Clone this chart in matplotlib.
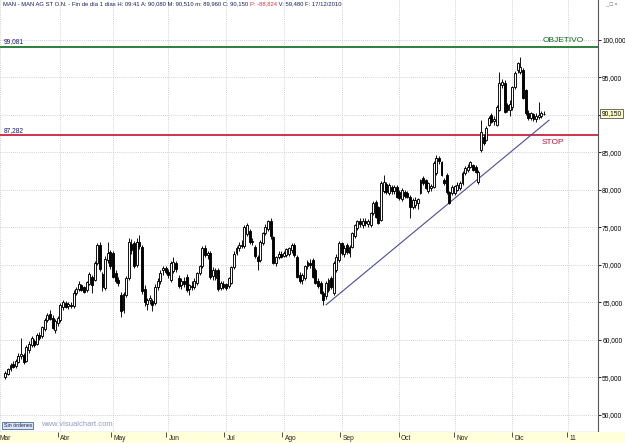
import matplotlib
matplotlib.use("Agg")
import matplotlib.pyplot as plt
import numpy as np

plt.rcParams['font.family'] = ['Liberation Sans', 'DejaVu Sans']

# Daily candles MAN AG, 2010 (index = trading day since 1 Mar 2010)
first_day = 2
opens = [55.1, 55.5, 56.1, 56.8, 56.5, 57.1, 57.8, 58.0, 57.2, 58.7,
         59.3, 59.9, 59.5, 60.6, 60.5, 61.5, 62.7, 63.5, 62.9, 61.3,
         62.3, 62.6, 64.4, 64.9, 64.5, 64.7, 64.5, 66.3, 66.8, 67.3,
         67.0, 66.6, 67.5, 68.4, 68.0, 70.2, 72.7, 68.8, 66.9, 70.6,
         71.7, 71.6, 68.9, 68.0, 66.0, 64.0, 66.0, 68.2, 72.8, 72.9,
         70.0, 73.0, 72.4, 66.8, 64.8, 65.3, 65.2, 64.9, 67.0, 67.9,
         69.3, 69.6, 69.1, 68.0, 69.2, 70.2, 68.3, 67.3, 67.8, 68.4,
         66.8, 67.2, 67.1, 67.6, 68.9, 69.8, 72.3, 71.3, 71.6, 68.5,
         68.3, 69.3, 66.9, 67.5, 67.4, 67.2, 67.6, 69.7, 71.6, 72.2,
         72.7, 72.5, 74.1, 74.5, 73.2, 72.4, 71.1, 70.6, 72.9, 74.3,
         74.8, 75.8, 73.7, 70.2, 71.1, 71.4, 71.2, 71.3, 71.4, 72.0,
         72.7, 71.1, 68.7, 68.0, 68.2, 69.8, 70.2, 70.6, 69.3, 67.9,
         67.6, 66.3, 65.8, 66.7, 68.2, 66.2, 69.3, 70.7, 72.9, 71.4,
         72.6, 71.6, 72.4, 73.8, 74.9, 75.8, 75.3, 75.9, 75.4, 75.3,
         76.9, 78.4, 77.7, 76.0, 79.9, 80.8, 79.6, 80.4, 79.8, 80.4,
         79.7, 78.8, 79.7, 79.6, 79.1, 77.7, 78.0, 78.3, 79.6, 81.6,
         81.3, 79.9, 80.2, 80.4, 82.3, 84.2, 83.7, 81.3, 82.0, 79.7,
         79.6, 79.6, 80.0, 80.3, 80.9, 82.3, 82.6, 83.1, 83.3, 83.1,
         81.1, 85.3, 87.1, 86.7, 88.7, 90.0, 89.2, 88.7, 90.7, 94.0,
         94.3, 91.3, 90.7, 91.0, 93.7, 96.0, 95.7, 96.0, 93.3, 90.3,
         89.6, 90.1, 89.5, 89.7, 89.9, 90.08]
highs = [55.8, 56.3, 56.9, 57.2, 57.4, 58.2, 60.2, 58.2, 59.3, 59.8,
         60.5, 60.1, 60.9, 61.0, 61.9, 62.9, 63.6, 64.0, 63.3, 62.8,
         63.2, 64.9, 65.3, 65.2, 65.0, 65.1, 66.6, 67.1, 67.8, 67.5,
         67.2, 67.9, 69.1, 68.6, 70.5, 72.9, 73.0, 69.1, 71.2, 73.1,
         72.0, 71.9, 69.3, 68.4, 66.4, 66.4, 68.5, 73.6, 73.4, 73.2,
         73.6, 74.0, 72.7, 67.3, 65.6, 66.0, 65.5, 67.4, 68.2, 69.3,
         69.9, 69.8, 69.4, 70.5, 71.1, 70.5, 68.6, 68.3, 68.4, 68.8,
         67.5, 67.8, 68.2, 69.1, 70.0, 72.5, 72.6, 71.9, 71.9, 69.7,
         69.6, 69.6, 67.9, 67.9, 67.6, 68.4, 69.9, 71.8, 72.5, 73.0,
         73.3, 75.3, 75.6, 74.8, 73.6, 72.6, 71.3, 73.3, 74.4, 75.5,
         76.0, 76.2, 73.9, 71.2, 71.8, 71.9, 71.8, 72.3, 72.4, 72.9,
         72.9, 71.3, 69.0, 68.9, 70.0, 70.6, 70.8, 70.9, 69.6, 68.2,
         67.8, 66.5, 67.9, 68.3, 68.5, 70.5, 71.4, 73.2, 73.1, 72.6,
         72.9, 72.6, 74.4, 75.5, 76.0, 76.3, 76.2, 76.3, 76.1, 77.1,
         78.5, 78.7, 77.9, 81.2, 82.0, 81.0, 80.9, 80.7, 80.6, 80.6,
         80.0, 80.2, 80.0, 79.8, 79.3, 78.9, 79.0, 78.9, 81.5, 81.9,
         81.5, 81.1, 80.8, 83.8, 84.7, 84.5, 83.9, 81.6, 82.2, 79.9,
         80.6, 80.7, 81.0, 81.2, 82.5, 83.2, 83.5, 83.9, 83.5, 83.3,
         82.6, 89.3, 87.4, 88.5, 89.8, 90.3, 89.8, 91.3, 95.7, 94.8,
         94.6, 91.6, 92.0, 93.9, 95.8, 97.1, 97.7, 96.3, 93.5, 90.6,
         90.4, 90.3, 90.2, 91.7, 90.5, 90.51]
lows = [54.8, 55.3, 55.8, 56.2, 56.3, 56.9, 57.4, 56.8, 57.0, 58.3,
        59.0, 59.1, 59.3, 60.0, 60.3, 61.2, 62.4, 62.6, 61.4, 60.9,
        61.9, 62.4, 64.0, 64.2, 64.1, 64.2, 64.3, 66.0, 66.5, 66.5,
        66.2, 66.4, 67.3, 66.3, 67.8, 70.0, 69.2, 66.5, 66.6, 70.3,
        69.5, 68.2, 67.6, 67.2, 63.1, 63.6, 65.7, 68.0, 71.5, 69.6,
        69.7, 72.1, 66.1, 64.5, 64.0, 64.8, 63.9, 64.6, 66.7, 67.5,
        68.7, 68.8, 68.3, 67.7, 68.9, 69.1, 66.9, 66.8, 67.1, 66.4,
        66.0, 66.6, 66.8, 67.3, 68.6, 69.6, 71.0, 70.8, 68.1, 68.0,
        68.0, 66.5, 66.6, 66.8, 66.7, 66.9, 67.4, 69.4, 71.3, 71.9,
        72.2, 72.3, 73.9, 72.8, 72.7, 70.9, 69.3, 70.4, 72.6, 74.0,
        74.5, 73.5, 70.1, 69.9, 70.8, 70.9, 71.0, 71.1, 71.2, 71.6,
        71.1, 68.2, 67.6, 67.4, 68.0, 69.5, 69.6, 68.2, 67.4, 66.9,
        66.1, 64.7, 65.5, 66.4, 66.8, 66.0, 69.0, 70.4, 71.3, 71.0,
        71.4, 71.1, 72.2, 73.6, 74.6, 75.0, 74.9, 75.2, 75.1, 75.1,
        76.7, 76.2, 75.4, 75.8, 79.6, 79.4, 79.3, 79.5, 79.5, 78.9,
        78.7, 78.5, 78.9, 78.9, 76.3, 77.4, 77.6, 77.5, 79.4, 80.7,
        80.1, 79.6, 79.8, 80.2, 82.0, 83.5, 81.8, 80.6, 79.5, 78.1,
        79.3, 79.3, 79.8, 80.0, 80.6, 82.0, 82.4, 82.9, 82.5, 82.2,
        80.8, 85.0, 86.0, 86.5, 88.5, 88.9, 88.6, 88.5, 90.5, 93.6,
        90.2, 90.4, 89.8, 90.6, 93.4, 95.6, 95.4, 92.1, 90.0, 89.3,
        89.3, 89.2, 89.1, 89.5, 89.6, 89.96]
closes = [55.6, 56.1, 56.7, 56.4, 57.2, 57.9, 58.1, 57.0, 59.0, 59.5,
          60.2, 59.3, 60.7, 60.3, 61.7, 62.6, 63.3, 62.8, 61.6, 62.5,
          62.9, 64.6, 65.0, 64.4, 64.8, 64.5, 66.3, 66.8, 67.5, 66.7,
          66.4, 67.7, 68.8, 67.3, 70.2, 72.6, 69.5, 67.0, 70.8, 71.6,
          69.8, 68.4, 67.8, 67.6, 63.8, 66.1, 68.2, 73.0, 72.0, 69.9,
          73.1, 72.5, 66.5, 65.0, 65.3, 65.6, 64.6, 67.1, 67.9, 68.9,
          69.6, 69.0, 68.6, 70.2, 70.4, 69.4, 67.2, 67.9, 67.5, 66.7,
          67.3, 67.0, 67.9, 68.9, 69.8, 72.2, 71.3, 71.6, 68.4, 69.3,
          69.3, 66.8, 67.6, 67.1, 66.9, 68.2, 69.7, 71.5, 72.2, 72.7,
          72.5, 75.0, 75.3, 73.1, 73.0, 71.2, 70.5, 73.0, 74.2, 75.1,
          75.8, 73.8, 70.3, 71.0, 71.5, 71.1, 71.6, 72.1, 72.2, 72.6,
          71.3, 68.4, 67.8, 68.6, 69.8, 70.4, 70.0, 68.4, 67.6, 67.2,
          66.3, 65.3, 67.6, 68.0, 67.1, 70.2, 71.1, 72.9, 71.6, 72.3,
          71.7, 72.4, 74.2, 75.3, 75.8, 75.4, 75.9, 75.6, 75.9, 76.9,
          78.3, 76.4, 75.6, 80.9, 81.1, 79.7, 80.6, 79.9, 80.4, 79.1,
          78.9, 80.0, 79.2, 79.1, 77.7, 78.7, 78.6, 78.8, 81.3, 80.9,
          80.3, 80.9, 80.5, 83.6, 84.3, 83.8, 82.0, 80.9, 79.7, 78.3,
          80.4, 80.5, 80.7, 80.9, 82.3, 82.9, 83.1, 83.7, 82.7, 82.4,
          82.4, 87.7, 86.3, 88.3, 89.6, 89.1, 89.4, 91.1, 94.3, 94.4,
          90.4, 90.7, 91.5, 93.7, 95.6, 96.9, 96.4, 92.3, 90.3, 89.6,
          90.3, 89.4, 89.9, 90.0, 90.3, 90.15]

month_labels = ['Mar', 'Abr', 'May', 'Jun', 'Jul', 'Ago', 'Sep', 'Oct', 'Nov', 'Dic', '11']
month_pos = [0, 23, 43, 64, 86, 108, 130, 152, 173, 195, 216]

price_ticks = [50, 55, 60, 65, 70, 75, 80, 85, 90, 95, 100]
objetivo = 99.081
stop = 87.282
last_price = 90.150

# directriz alcista
trend_x = [124.1, 208.9]
trend_y = [64.7, 89.3]

header = "MAN - MAN AG ST O.N. - Fin de día 1 días H: 09:41 A: 90,080 M: 90,510 m: 89,960 C: 90,150 "
header_red = "P: -88,824"
header_end = " V: 59,480 F: 17/12/2010"


def fmt(v):
    return f"{v:.3f}".replace('.', ',')


W, H = 625, 443
fig = plt.figure(figsize=(W / 100, H / 100), dpi=100)
fig.patch.set_facecolor('white')

ax = fig.add_axes([0, 11 / H, 598 / W, 432 / H])
ax.set_xlim(1.03, 227.55)
ax.set_ylim(47.733, 105.333)

o = np.array(opens)
h = np.array(highs)
l = np.array(lows)
c = np.array(closes)
x = np.arange(first_day, first_day + len(o))

up = c >= o
ax.vlines(x, l, h, color='black', linewidth=0.65, zorder=3)
body_lo = np.minimum(o, c)
body_h = np.maximum(np.abs(c - o), 0.06)
ax.bar(x[up], body_h[up], bottom=body_lo[up], width=0.74,
       facecolor='white', edgecolor='black', linewidth=0.65, zorder=4)
ax.bar(x[~up], body_h[~up], bottom=body_lo[~up], width=0.74,
       facecolor='black', edgecolor='black', linewidth=0.65, zorder=4)

# lineas objetivo / stop
ax.axhline(objetivo, color='#0b6b1a', linewidth=1.2, zorder=2)
ax.axhline(stop, color='#c8102e', linewidth=1.2, zorder=2)
ax.text(1.6, objetivo + 0.2, fmt(objetivo), fontsize=4.8, color='#1a1a6e', va='bottom')
ax.text(1.6, stop + 0.2, fmt(stop), fontsize=4.8, color='#1a1a6e', va='bottom')
ax.text(206.6, objetivo + 0.35, 'OBJETIVO', fontsize=6, color='#0b6b1a', va='bottom')
ax.text(206.0, stop - 0.45, 'STOP', fontsize=6, color='#c8102e', va='top')

ax.plot(trend_x, trend_y, color='#4b4ba0', linewidth=0.8, zorder=2)

# grid
ax.set_xticks(month_pos)
ax.set_yticks(price_ticks)
ax.grid(True, color='#c4c4c4', linestyle=(0, (1, 1.5)), linewidth=0.6)
ax.set_axisbelow(True)
ax.tick_params(axis='x', length=0, labelbottom=False)
ax.yaxis.tick_right()
ax.tick_params(axis='y', length=2, width=0.6, pad=1, labelsize=4.8, labelcolor='black')
# la etiqueta del ultimo precio ocupa el sitio de 90,000
ax.set_yticklabels(['' if v == 90 else fmt(v) for v in price_ticks])
for side in ['top', 'left']:
    ax.spines[side].set_visible(False)
ax.spines['right'].set_color('#555555')
ax.spines['bottom'].set_color('#333333')
ax.spines['right'].set_linewidth(0.8)
ax.spines['bottom'].set_linewidth(0.8)

# etiqueta precio actual
ax.annotate(fmt(last_price), xy=(1.0, last_price), xycoords=('axes fraction', 'data'),
            xytext=(2.5, 0), textcoords='offset points', fontsize=4.8, va='center', ha='left',
            bbox=dict(boxstyle='square,pad=0.15', fc='#ffffcc', ec='#333333', lw=0.5),
            annotation_clip=False)

# cabecera
t1 = ax.text(0.005, 0.997, header, transform=ax.transAxes, fontsize=4.2,
             color='#1a1a5a', va='top', ha='left')
t2 = ax.annotate(header_red, xy=(1, 0), xycoords=t1, fontsize=4.2,
                 color='#e0303a', va='bottom', ha='left')
ax.annotate(header_end, xy=(1, 0), xycoords=t2, fontsize=4.2,
            color='#1a1a5a', va='bottom', ha='left')

# pie
ax.text(0.006, 0.009, 'Sin órdenes', transform=ax.transAxes, fontsize=3.8,
        color='#1a1a5a', va='bottom', ha='left',
        bbox=dict(boxstyle='square,pad=0.25', fc='#dde8f4', ec='#4a6a90', lw=0.6))
ax.text(0.068, 0.009, 'www.visualchart.com', transform=ax.transAxes, fontsize=5.5,
        color='#8e9cc6', va='bottom', ha='left')

fig.text(0.968, 0.995, '_ \u25a1 \u00d7', fontsize=4, color='#666666', va='top', ha='left')

# banda de fechas
axb = fig.add_axes([0, 0, 1, 11 / H])
axb.set_facecolor('#ffffdc')
axb.set_xlim(1.03, 237.8)
axb.set_ylim(0, 1)
axb.vlines(month_pos, 0.55, 1, color='#333333', linewidth=0.6)
for p, lab in zip(month_pos, month_labels):
    axb.text(p + 0.9, 0.4, lab, fontsize=4.8, color='#222222', va='center', ha='left')
axb.set_xticks([])
axb.set_yticks([])
for s in axb.spines.values():
    s.set_visible(False)

fig.savefig('out.png', dpi=100)
